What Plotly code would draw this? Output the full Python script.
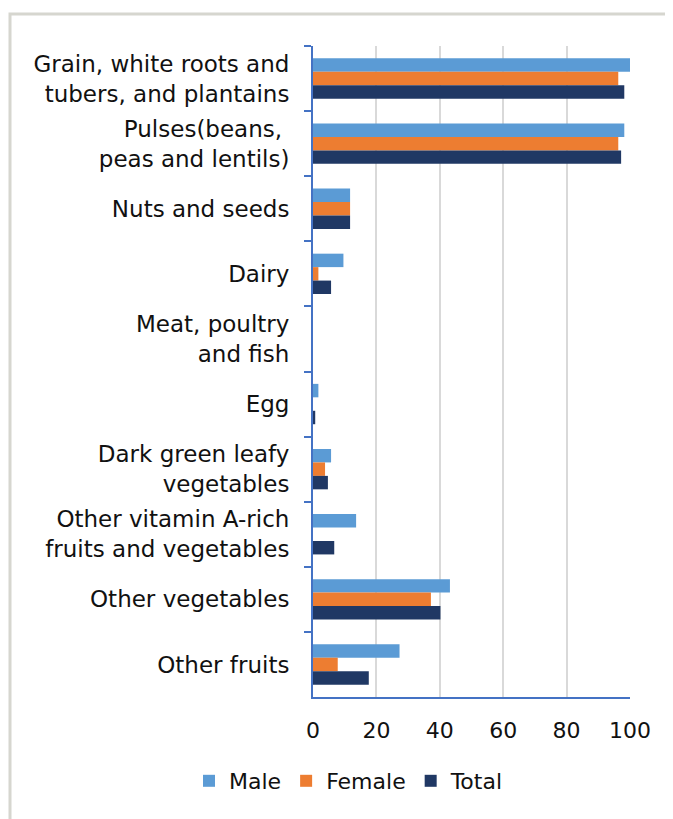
import plotly.graph_objects as go

categories = [
    "Grain, white roots and<br>tubers, and plantains",
    "Pulses(beans, <br>peas and lentils)",
    "Nuts and seeds",
    "Dairy",
    "Meat, poultry<br>and fish",
    "Egg",
    "Dark green leafy<br>vegetables",
    "Other vitamin A-rich<br>fruits and vegetables",
    "Other vegetables",
    "Other fruits",
]
male = [100, 98.2, 11.7, 9.6, 0, 1.7, 5.7, 13.6, 43.2, 27.3]
female = [96.3, 96.3, 11.7, 1.7, 0, 0, 3.8, 0, 37.2, 7.8]
total = [98.2, 97.2, 11.7, 5.7, 0, 0.7, 4.7, 6.7, 40.2, 17.6]
x_ticks = [0, 20, 40, 60, 80, 100]

OFF = 8  # page body margin
W, H = 673 - OFF, 819 - OFF
L, R, T, B = 313 - OFF, 630 - OFF, 46 - OFF, 697 - OFF

fig = go.Figure()
for name, vals, col in [("Male", male, "#5B9BD5"), ("Female", female, "#ED7D31"), ("Total", total, "#203864")]:
    fig.add_trace(go.Bar(
        y=categories, x=vals, name=name, orientation="h",
        marker=dict(color=col, line=dict(width=0)),
    ))

font = "DejaVu Sans, Verdana, sans-serif"
fig.update_layout(
    width=W, height=H,
    margin=dict(l=L, r=W - R, t=T, b=H - B, pad=0),
    paper_bgcolor="white", plot_bgcolor="white",
    barmode="group", bargap=0.38, bargroupgap=0,
    font=dict(family=font, size=22, color="#111111"),
    showlegend=True,
    legend=dict(orientation="h", x=(349 - 313) / (630 - 313), xanchor="center",
                y=-(781 - 697) / (697 - 46), yanchor="middle",
                font=dict(size=22, family=font, color="#111111"),
                itemwidth=30, tracegroupgap=0),
    xaxis=dict(range=[0, 100], tickvals=x_ticks, showgrid=True, gridcolor="#D9D9D9",
               gridwidth=2, showline=True, linecolor="#4472C4", linewidth=2,
               zeroline=False, ticks="", tickfont=dict(size=22, family=font, color="#111111"),
               ticklabelstandoff=13, fixedrange=True),
    yaxis=dict(autorange="reversed", type="category", showline=True, linecolor="#4472C4",
               linewidth=2, ticks="outside", tickson="boundaries", ticklen=7,
               tickcolor="#4472C4", tickwidth=2, showgrid=False,
               tickfont=dict(size=23, family=font, color="#111111"),
               ticklabelstandoff=17),
    shapes=[dict(type="rect", xref="paper", yref="paper",
                 x0=(10 - 313) / (630 - 313), x1=1.3,
                 y0=-0.3, y1=(697 - 14) / (697 - 46),
                 line=dict(color="#D6D6CF", width=3), layer="below")],
)

fig.write_html("out.html")
